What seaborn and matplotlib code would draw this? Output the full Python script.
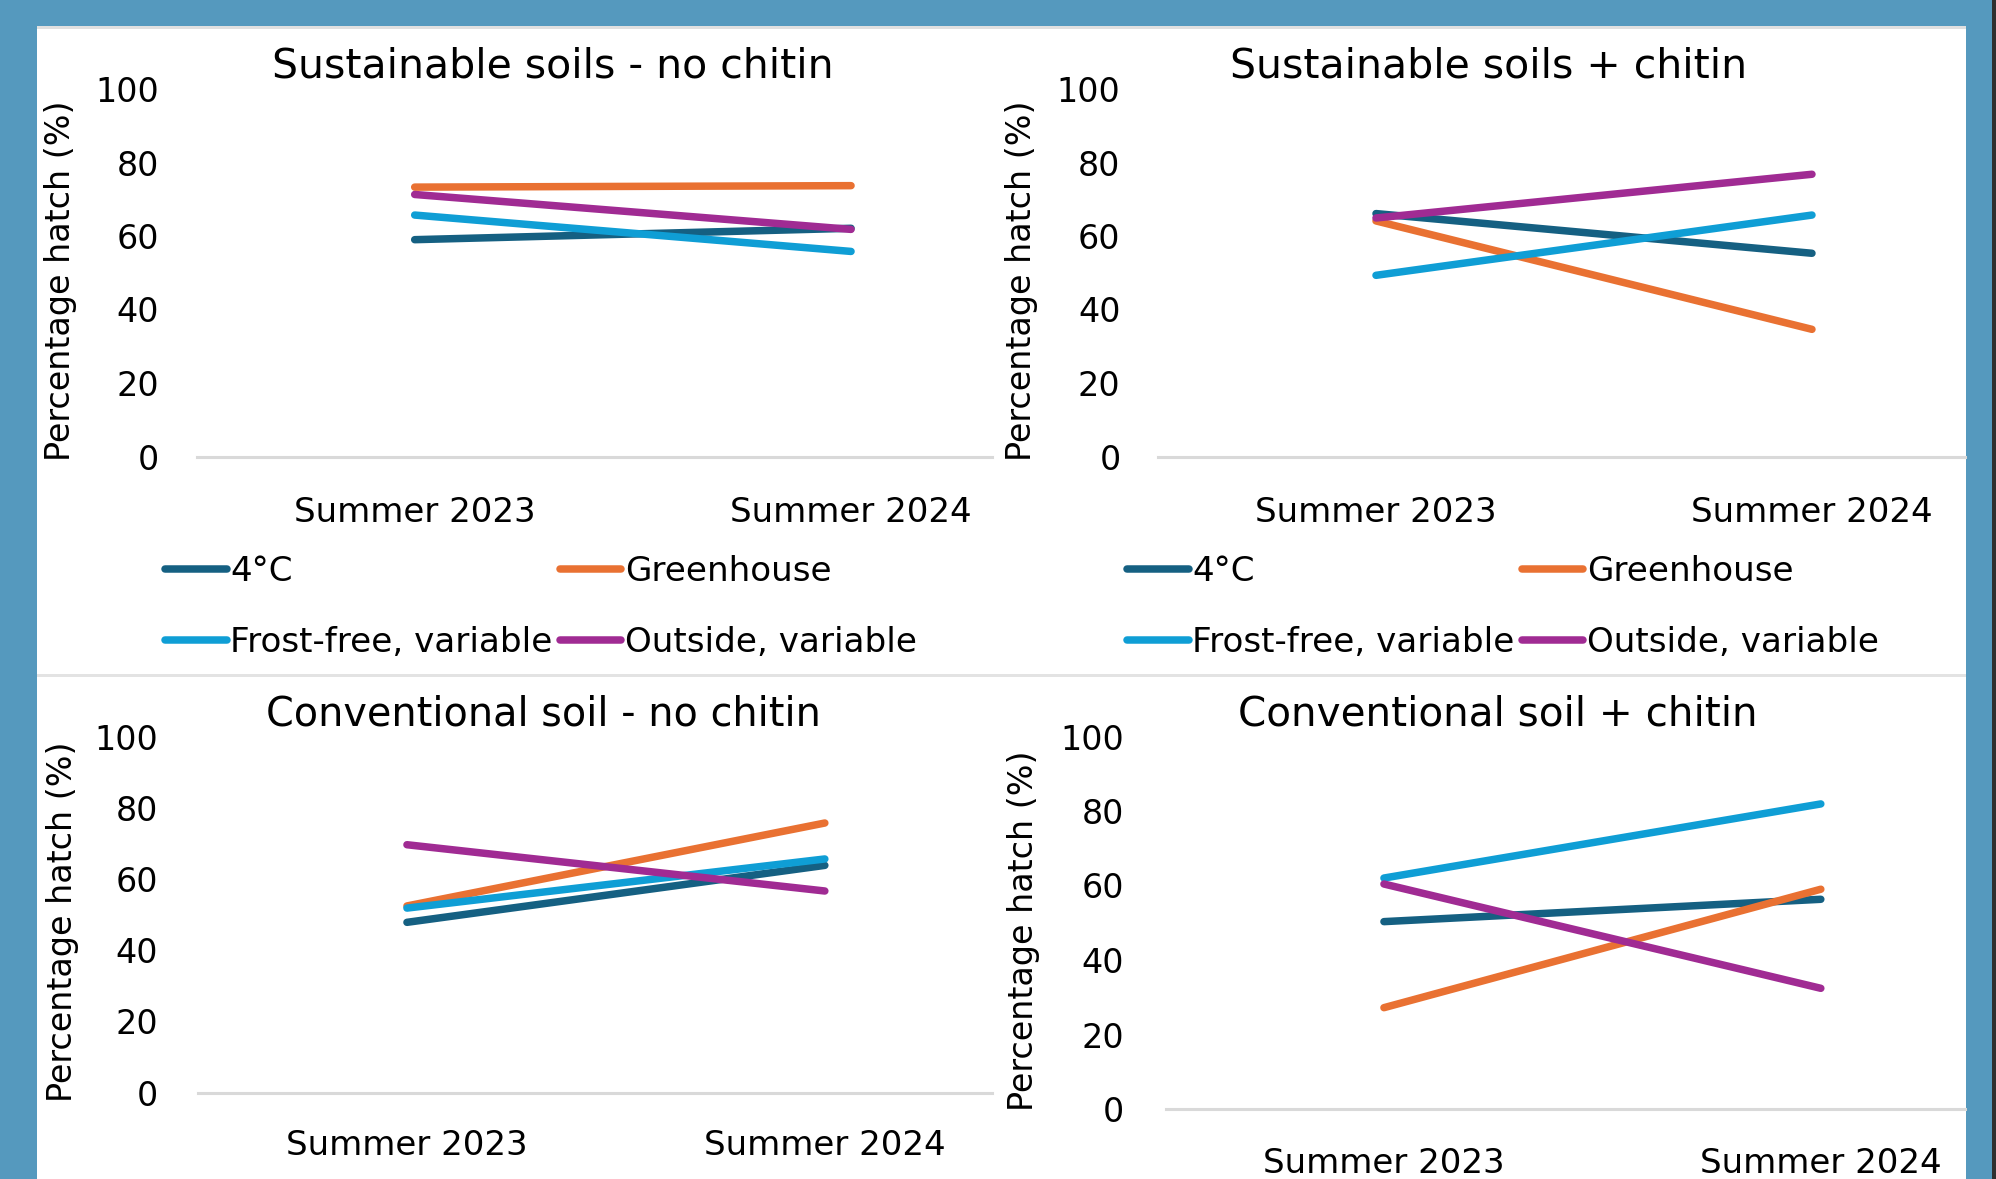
import numpy as np
import pandas as pd
import matplotlib.pyplot as plt
import seaborn as sns
from matplotlib.lines import Line2D
from matplotlib.patches import Rectangle

sns.set_theme(style="white")
plt.rcParams['font.family'] = ['DejaVu Sans']

# Data
seasons = ["Summer 2023", "Summer 2024"]
treatments = ["4°C", "Greenhouse", "Frost-free, variable", "Outside, variable"]
colours = ["#156082", "#E97132", "#0F9ED5", "#A02B93"]

panel_titles = ["Sustainable soils - no chitin", "Sustainable soils + chitin",
                "Conventional soil - no chitin", "Conventional soil + chitin"]

# percentage hatch, same order as treatments
sust_no_2023 = [59.0, 73.3, 65.7, 71.3]
sust_no_2024 = [62.1, 73.7, 55.8, 61.8]
sust_ch_2023 = [66.1, 64.1, 49.3, 64.9]
sust_ch_2024 = [55.3, 34.6, 65.7, 76.8]
conv_no_2023 = [47.8, 52.4, 51.8, 69.6]
conv_no_2024 = [63.8, 75.7, 65.6, 56.6]
conv_ch_2023 = [50.3, 27.2, 62.0, 60.4]
conv_ch_2024 = [56.3, 59.0, 81.9, 32.4]

panel_vals = [(sust_no_2023, sust_no_2024), (sust_ch_2023, sust_ch_2024),
              (conv_no_2023, conv_no_2024), (conv_ch_2023, conv_ch_2024)]

rows = []
for p, (v23, v24) in enumerate(panel_vals):
    for t, a, b in zip(treatments, v23, v24):
        rows.append([p, t, seasons[0], a])
        rows.append([p, t, seasons[1], b])
df = pd.DataFrame(rows, columns=['panel', 'treatment', 'season', 'hatch'])

W, H = 1996, 1179
fig = plt.figure(figsize=(W / 100, H / 100), dpi=100, facecolor='#5599BE')

def px_rect(x0, y0, x1, y1, color):
    fig.patches.append(Rectangle((x0 / W, 1 - y1 / H), (x1 - x0) / W, (y1 - y0) / H,
                                 transform=fig.transFigure, color=color, zorder=-5, lw=0))

# white sheet, borders
px_rect(37, 26, 1966, H, 'white')
px_rect(37, 26, 1966, 29, '#E0E0E0')
px_rect(37, 674, 1966, 677, '#E3E3E3')
px_rect(1992, 0, W, H, '#2F2F2F')

# axes layout in pixels: left, top, right, bottom, xlim right, ytick pad, xtick pad
layout = [
    (196.5, 89, 992, 456.5, 1.323, 27, 28.5),
    (1158, 89, 1965, 456.5, 1.351, 27, 28.5),
    (198, 736.5, 992, 1092.5, 1.40, 29, 26.5),
    (1165.5, 736.5, 1965, 1109, 1.33, 30, 27.5),
]
title_pos = [(553, 67), (1489, 67), (543, 714), (1498, 715)]
title_size = [29.5, 29.5, 28.6, 29.2]
ylab_pos = [(61, 281), (1022, 281), (63, 922), (1024, 931)]

axes = []
for p, (l, t, r, b, xr, ypad, xpad) in enumerate(layout):
    ax = fig.add_axes([l / W, 1 - b / H, (r - l) / W, (b - t) / H])
    ax.set_facecolor('none')
    sub = df[df['panel'] == p]
    sns.lineplot(data=sub, x='season', y='hatch', hue='treatment', hue_order=treatments,
                 palette=colours, lw=5.4, sort=False, legend=False, ax=ax,
                 solid_capstyle='round')
    ax.set_ylim(0, 100)
    ax.set_xlim(-0.5, xr)
    ax.set_yticks([0, 20, 40, 60, 80, 100])
    ax.set_xlabel('')
    ax.set_ylabel('')
    for s in ['top', 'right', 'left']:
        ax.spines[s].set_visible(False)
    ax.spines['bottom'].set_color('#D9D9D9')
    ax.spines['bottom'].set_linewidth(2.2)
    ax.tick_params(axis='y', length=0, pad=ypad, labelsize=24, labelcolor='black')
    ax.tick_params(axis='x', length=0, pad=xpad, labelsize=24.5, labelcolor='black')
    for ln in ax.lines:
        ln.set_clip_on(False)
    fig.text(title_pos[p][0] / W, 1 - title_pos[p][1] / H, panel_titles[p],
             ha='center', va='center', fontsize=title_size[p], color='black')
    fig.text(ylab_pos[p][0] / W, 1 - ylab_pos[p][1] / H, 'Percentage hatch (%)',
             ha='center', va='center', rotation=90, fontsize=24, color='black')
    axes.append(ax)

# legends under the top two panels (Excel order, row by row)
handles = [Line2D([], [], color=c, lw=5.4, solid_capstyle='round') for c in colours]
order = [0, 2, 1, 3]
for ax, lx in zip(axes[:2], [165, 1127]):
    ax.legend([handles[i] for i in order], [treatments[i] for i in order],
              ncol=2, loc='upper left', bbox_to_anchor=(lx / W, 1 - 555 / H),
              bbox_transform=fig.transFigure, frameon=False, fontsize=24.6,
              labelcolor='black', handlelength=1.8, handletextpad=0.1,
              columnspacing=0.22, labelspacing=1.1, borderpad=0, borderaxespad=0)

fig.savefig('out.png', dpi=100, facecolor=fig.get_facecolor())
